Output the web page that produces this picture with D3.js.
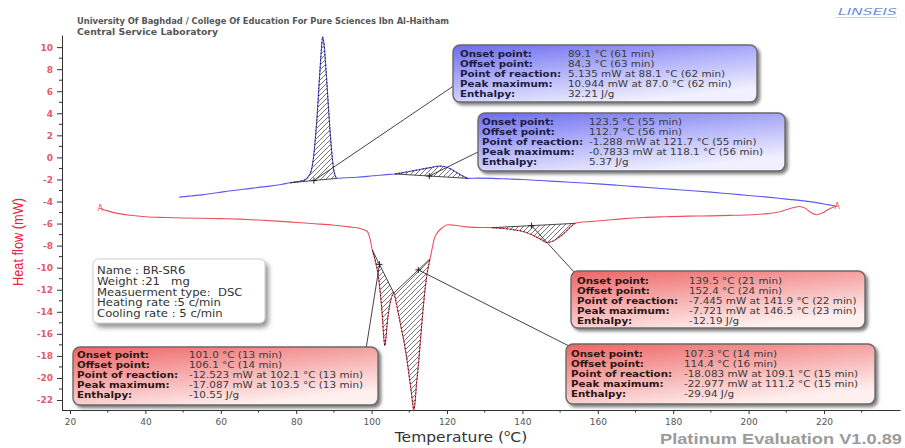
<!DOCTYPE html>
<html>
<head>
<meta charset="utf-8">
<script src="https://cdn.jsdelivr.net/npm/d3@7"></script>
<style>
  body { margin: 0; background: #fff; }
  svg { display: block; }
</style>
</head>
<body>
<svg id="chart" width="905" height="448"></svg>
<script>
// ---- DSC run BR-SR6: cooling segment (blue) ----
const coolTemp = [49,52,55,58,61,64,67,70,73,76,78.4,80,81.5,82.5,83.3,84.0,84.6,85.1,85.6,86.1,86.6,87.0,87.4,87.9,88.4,88.9,89.4,89.9,90.4,90.8,93,96,99,102,104,106.2,108,110,112,114,116,118.1,119.5,121,122.5,124,125.6,128,132,136,140,145,150,155,160,165,170,175,180,185,190,195,200,205,210,214,218,221,223];
const coolFlow = [-3.6,-3.5,-3.4,-3.25,-3.1,-2.98,-2.85,-2.72,-2.6,-2.45,-2.3,-2.22,-2.12,-2.0,-1.7,-1.2,0.0,1.8,4.0,6.8,9.4,10.944,10.2,8.0,5.4,2.8,0.6,-1.0,-1.7,-1.9,-1.85,-1.8,-1.72,-1.62,-1.56,-1.5,-1.4,-1.28,-1.15,-1.02,-0.9,-0.7833,-0.85,-1.05,-1.35,-1.65,-1.9,-1.88,-1.9,-1.95,-2.0,-2.1,-2.2,-2.3,-2.4,-2.52,-2.65,-2.78,-2.9,-3.02,-3.15,-3.3,-3.45,-3.6,-3.78,-3.92,-4.1,-4.28,-4.4];

// ---- heating segment (red) ----
const heatTemp = [28,30,33,36,40,45,50,55,60,65,70,75,80,85,90,94,97,98.8,99.6,100.2,101,101.8,102.4,102.9,103.2,103.5,103.8,104.1,104.6,105.2,105.9,106.6,107.3,108.0,108.7,109.4,110.0,110.5,110.9,111.2,111.5,111.9,112.4,113.0,113.6,114.2,114.9,115.5,116.1,116.7,117.5,118.5,120.2,122,125,128,132,135,138,141,143,145,146.5,148,149.5,151,152.5,154,156,158,162,167,172,178,184,190,196,201,205,208,210,212,213.5,215,216.5,218,219.5,221,222.5,223.5];
const heatFlow = [-4.6,-4.85,-5.1,-5.25,-5.38,-5.45,-5.5,-5.52,-5.55,-5.6,-5.68,-5.78,-5.9,-6.02,-6.15,-6.3,-6.45,-6.7,-7.4,-8.4,-9.4,-10.8,-12.6,-14.6,-16.2,-17.087,-16.4,-15.2,-13.8,-12.8,-12.3,-13.3,-14.5,-15.7,-16.9,-18.4,-19.9,-21.2,-22.3,-22.977,-22.3,-20.6,-18.9,-16.4,-14.0,-11.9,-10.2,-9.2,-8.2,-7.3,-6.8,-6.45,-6.1,-6.15,-6.3,-6.35,-6.37,-6.45,-6.58,-6.8,-7.1,-7.45,-7.721,-7.6,-7.3,-6.9,-6.4,-5.98,-5.85,-5.82,-5.7,-5.55,-5.45,-5.38,-5.32,-5.3,-5.25,-5.2,-5.1,-4.95,-4.75,-4.55,-4.45,-4.6,-5.0,-5.2,-5.05,-4.75,-4.5,-4.4];

// ---- axis ticks ----
const xTicks = [20,40,60,80,100,120,140,160,180,200,220];
const yTicks = [10,8,6,4,2,0,-2,-4,-6,-8,-10,-12,-14,-16,-18,-20,-22];

// ---- evaluated peaks ----
const peakSegment  = ["cool","cool","heat","heat","heat"];
const peakFrom     = [78.4,106.2,132,105.9,100.2];
const peakTo       = [90.8,125.6,154,115.5,105.9];
const peakMarkAt   = [84.7,115.3,142.4,112.4,102.1];
const peakOnset    = ["89.1 °C (61 min)","123.5 °C (55 min)","139.5 °C (21 min)","107.3 °C (14 min)","101.0 °C (13 min)"];
const peakOffset   = ["84.3 °C (63 min)","112.7 °C (56 min)","152.4 °C (24 min)","114.4 °C (16 min)","106.1 °C (14 min)"];
const peakReaction = ["5.135 mW at 88.1 °C (62 min)","-1.288 mW at 121.7 °C (55 min)","-7.445 mW at 141.9 °C (22 min)","-18.083 mW at 109.1 °C (15 min)","-12.523 mW at 102.1 °C (13 min)"];
const peakMaxFlow  = ["10.944","-0.7833","-7.721","-22.977","-17.087"];
const peakMaxTemp  = ["87.0","118.1","146.5","111.2","103.5"];
const peakMaxMin   = [62,56,23,15,13];
const peakEnthalpy = ["32.21 J/g","5.37 J/g","-12.19 J/g","-29.94 J/g","-10.55 J/g"];
const rowLabels    = ["Onset point:","Offset point:","Point of reaction:","Peak maximum:","Enthalpy:"];

const sampleInfo = ["Name : BR-SR6","Weight :21   mg","Measuerment type:  DSC","Heating rate :5 c/min","Cooling rate : 5 c/min"];

// ---- layout of the result boxes (pixels) ----
const boxLayout = [
  { x: 453, y: 45,  w: 304, h: 57, lx: 7, vx: 115, ty: 12.3, ax: 455, ay: 85 },
  { x: 478, y: 113, w: 307, h: 58, lx: 4, vx: 111, ty: 12.0, ax: 480, ay: 151 },
  { x: 571, y: 271, w: 294, h: 57, lx: 6, vx: 118, ty: 13.0, ax: 575, ay: 273 },
  { x: 566, y: 344, w: 309, h: 60, lx: 5, vx: 118, ty: 12.6, ax: 569, ay: 346 },
  { x: 73,  y: 347, w: 305, h: 58, lx: 4, vx: 116, ty: 11.3, ax: 366, ay: 349 }
];

const COOL = "#5b5bef", HEAT = "#ee4f5e";
const FONT = "DejaVu Sans, Verdana, sans-serif";
const svg = d3.select("#chart");
const x = d3.scaleLinear().domain([17.88, 240.16]).range([62, 900]);
const y = d3.scaleLinear().domain([-22.95, 11.1]).range([410.5, 35]);

const defs = svg.append("defs");
const hatch = defs.append("pattern").attr("id", "hatch")
  .attr("patternUnits", "userSpaceOnUse").attr("width", 5).attr("height", 5);
hatch.append("path").attr("d", "M-1,1 l2,-2 M0,5 l5,-5 M4,6 l2,-2")
  .attr("stroke", "#555").attr("stroke-width", 0.8);

const sh = defs.append("filter").attr("id", "shadow")
  .attr("x", "-10%").attr("y", "-10%").attr("width", "125%").attr("height", "140%");
sh.append("feDropShadow").attr("dx", 2.5).attr("dy", 2.5).attr("stdDeviation", 1.4)
  .attr("flood-color", "#555").attr("flood-opacity", 0.75);
const sh2 = defs.append("filter").attr("id", "softshadow")
  .attr("x", "-10%").attr("y", "-10%").attr("width", "130%").attr("height", "150%");
sh2.append("feDropShadow").attr("dx", 3).attr("dy", 4).attr("stdDeviation", 2.5)
  .attr("flood-color", "#777").attr("flood-opacity", 0.8);

function grad(id, c0, c1, c2) {
  const g = defs.append("linearGradient").attr("id", id)
    .attr("x1", 0).attr("y1", 0).attr("x2", 0.55).attr("y2", 1);
  g.append("stop").attr("offset", "0%").attr("stop-color", c0);
  g.append("stop").attr("offset", "50%").attr("stop-color", c1);
  g.append("stop").attr("offset", "100%").attr("stop-color", c2);
}
grad("gcool", "#6b6bef", "#b0b0fa", "#f0f0ff");
grad("gheat", "#ee6464", "#f6abab", "#fff0f0");

// ---- header ----
const header = svg.append("g").attr("font-family", FONT)
  .attr("font-weight", "bold").attr("fill", "#565656").attr("font-size", 8.4);
header.append("text").attr("x", 77).attr("y", 23.5).attr("textLength", 372)
  .attr("lengthAdjust", "spacingAndGlyphs")
  .text("University Of Baghdad / College Of Education For Pure Sciences Ibn Al-Haitham");
header.append("text").attr("x", 77).attr("y", 34.5).attr("textLength", 141)
  .attr("lengthAdjust", "spacingAndGlyphs").text("Central Service Laboratory");

// brand mark
svg.append("text").attr("x", 838).attr("y", 15).attr("font-family", FONT)
  .attr("font-size", 8.5).attr("font-style", "italic").attr("fill", "#6f93d6")
  .attr("textLength", 59).attr("lengthAdjust", "spacingAndGlyphs").text("LINSEIS");
svg.append("line").attr("x1", 836).attr("x2", 897).attr("y1", 17.5).attr("y2", 17.5)
  .attr("stroke", "#c5d3ee").attr("stroke-width", 1);

// ---- axes ----
const yAxis = svg.append("g").attr("transform", "translate(62,0)")
  .call(d3.axisLeft(y).tickValues(yTicks).tickSize(5).tickSizeOuter(0).tickPadding(4)
    .tickFormat(d => String(d)));
yAxis.select(".domain").attr("stroke", "#333");
yAxis.selectAll(".tick line").attr("stroke", "#333");
yAxis.selectAll("text").attr("fill", "#e35a6a").attr("font-size", 9)
  .attr("font-weight", "bold").attr("font-family", FONT);
yAxis.selectAll(".minor").data(d3.range(-22, 11, 1).filter(v => v % 2 !== 0))
  .enter().append("line").attr("class", "minor")
  .attr("x1", -3).attr("x2", 0).attr("y1", d => y(d)).attr("y2", d => y(d))
  .attr("stroke", "#333");

const xAxis = svg.append("g").attr("transform", "translate(0,410)")
  .call(d3.axisBottom(x).tickValues(xTicks).tickSize(4).tickSizeOuter(0).tickPadding(5)
    .tickFormat(d => String(d)));
xAxis.select(".domain").attr("stroke", "#333");
xAxis.selectAll(".tick line").attr("stroke", "#333");
xAxis.selectAll("text").attr("fill", "#555").attr("font-size", 9).attr("font-family", FONT);
xAxis.selectAll(".minor").data(d3.range(30, 240, 20))
  .enter().append("line").attr("class", "minor")
  .attr("x1", d => x(d)).attr("x2", d => x(d)).attr("y1", 0).attr("y2", 2.5)
  .attr("stroke", "#333");

svg.append("text").attr("transform", "translate(23,242) rotate(-90)")
  .attr("text-anchor", "middle").attr("font-family", "Liberation Sans, Arial, sans-serif")
  .attr("font-size", 14).attr("fill", "#e8223c").attr("textLength", 88)
  .attr("lengthAdjust", "spacingAndGlyphs").text("Heat flow (mW)");

const xt = svg.append("text").attr("transform", "translate(461,442) scale(1.15,1)")
  .attr("text-anchor", "middle").attr("font-family", FONT).attr("font-size", 13.5).attr("fill", "#333");
xt.append("tspan").text("Temperature (");
xt.append("tspan").attr("font-size", 9).attr("dy", -6).text("o");
xt.append("tspan").attr("dy", 6).text("C)");

svg.append("text").attr("x", 902).attr("y", 444).attr("text-anchor", "end")
  .attr("font-family", "Liberation Sans, Arial, sans-serif").attr("font-weight", "bold")
  .attr("font-size", 14).attr("fill", "#9b9b9b").attr("textLength", 242)
  .attr("lengthAdjust", "spacingAndGlyphs").text("Platinum Evaluation V1.0.89");

// ---- curves ----
const segments = {
  cool: { pts: d3.zip(coolTemp, coolFlow), color: COOL },
  heat: { pts: d3.zip(heatTemp, heatFlow), color: HEAT }
};
const line = d3.line().x(d => x(d[0])).y(d => y(d[1])).curve(d3.curveMonotoneX);
function valueAt(pts, t) {
  const i = d3.bisector(d => d[0]).left(pts, t);
  if (i <= 0) return pts[0][1];
  if (i >= pts.length) return pts[pts.length - 1][1];
  const a = pts[i - 1], b = pts[i];
  return a[1] + (b[1] - a[1]) * (t - a[0]) / (b[0] - a[0]);
}
function peakPart(pts, t0, t1) {
  return [[t0, valueAt(pts, t0)]]
    .concat(pts.filter(d => d[0] > t0 && d[0] < t1))
    .concat([[t1, valueAt(pts, t1)]]);
}

const plot = svg.append("g");
// hatched peak areas
peakSegment.forEach((s, i) => {
  plot.append("path").attr("d", line(peakPart(segments[s].pts, peakFrom[i], peakTo[i])) + "Z")
    .attr("fill", "url(#hatch)").attr("stroke", "none");
});

Object.values(segments).forEach(seg => {
  plot.append("path").attr("d", line(seg.pts)).attr("fill", "none")
    .attr("stroke", seg.color).attr("stroke-width", 1.1);
});

// peak outlines, baselines, leader lines and markers
peakSegment.forEach((s, i) => {
  const pts = segments[s].pts;
  const t0 = peakFrom[i], t1 = peakTo[i];
  const part = peakPart(pts, t0, t1);
  const v0 = part[0][1], v1 = part[part.length - 1][1];
  plot.append("path").attr("d", line(part)).attr("fill", "none")
    .attr("stroke", "#222").attr("stroke-width", 1).attr("stroke-dasharray", "1.5,2");
  plot.append("line").attr("x1", x(t0)).attr("y1", y(v0)).attr("x2", x(t1)).attr("y2", y(v1))
    .attr("stroke", "#333").attr("stroke-width", 0.9);
  const tm = peakMarkAt[i], vm = v0 + (v1 - v0) * (tm - t0) / (t1 - t0);
  const mx = x(tm), my = y(vm), b = boxLayout[i];
  plot.append("line").attr("x1", mx).attr("y1", my).attr("x2", b.ax).attr("y2", b.ay)
    .attr("stroke", "#444").attr("stroke-width", 1);
  plot.append("path").attr("d", `M${mx - 3},${my}h6M${mx},${my - 3}v6`)
    .attr("stroke", "#222").attr("stroke-width", 1);
});

// heating run start / end markers
const hp = segments.heat.pts;
[hp[0], hp[hp.length - 1]].forEach(p => {
  plot.append("text").attr("x", x(p[0])).attr("y", y(p[1]) + 3).attr("text-anchor", "middle")
    .attr("font-family", FONT).attr("font-size", 8).attr("fill", HEAT).text("A");
});

// ---- sample information ----
const info = svg.append("g");
info.append("rect").attr("x", 93).attr("y", 259).attr("width", 172).attr("height", 64)
  .attr("rx", 5).attr("fill", "#fff").attr("stroke", "#cfcfcf").attr("filter", "url(#softshadow)");
info.selectAll("text").data(sampleInfo).enter().append("text")
  .attr("transform", (d, i) => `translate(97,${274 + i * 10.8}) scale(1.1,1)`)
  .attr("font-family", FONT).attr("font-size", 10.6)
  .attr("fill", "#333").style("white-space", "pre").text(d => d);

// ---- result boxes ----
boxLayout.forEach((b, i) => {
  const g = svg.append("g").attr("transform", `translate(${b.x},${b.y})`);
  const isCool = peakSegment[i] === "cool";
  g.append("rect").attr("width", b.w).attr("height", b.h).attr("rx", 7)
    .attr("fill", isCool ? "url(#gcool)" : "url(#gheat)")
    .attr("stroke", "#6a6a6a").attr("stroke-width", 1.4).attr("filter", "url(#shadow)");
  const values = [peakOnset[i], peakOffset[i], peakReaction[i],
    `${peakMaxFlow[i]} mW at ${peakMaxTemp[i]} °C (${peakMaxMin[i]} min)`, peakEnthalpy[i]];
  rowLabels.forEach((lab, r) => {
    const ty = b.ty + r * 10;
    g.append("text").attr("transform", `translate(${b.lx},${ty}) scale(1.12,1)`)
      .attr("font-family", FONT).attr("font-size", 9.2)
      .attr("font-weight", "bold").attr("fill", isCool ? "#1c1c3c" : "#2a1515").text(lab);
    g.append("text").attr("transform", `translate(${b.vx},${ty}) scale(1.12,1)`)
      .attr("font-family", FONT).attr("font-size", 9.3)
      .attr("fill", "#3a3a3a").text(values[r]);
  });
});
</script>
</body>
</html>
